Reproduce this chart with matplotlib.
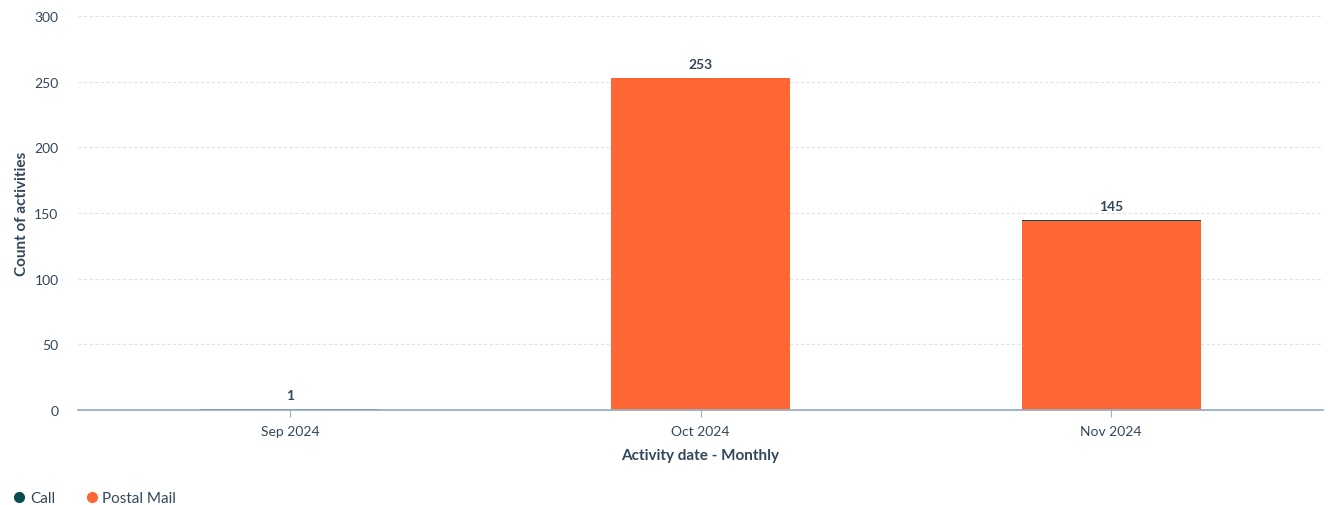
import numpy as np
import matplotlib.pyplot as plt
from matplotlib.lines import Line2D

months = ["Sep 2024", "Oct 2024", "Nov 2024"]
call = [1, 0, 1]
postal_mail = [0, 253, 144]

CALL_COLOR = "#0b4a4d"
MAIL_COLOR = "#ff6633"
TEXT_COLOR = "#33475b"

plt.rcParams["font.family"] = ["Lato", "DejaVu Sans"]

fig = plt.figure(figsize=(13.35, 5.06), dpi=100)
ax = fig.add_axes([78 / 1335, 1 - 411 / 506, (1323 - 78) / 1335, (411 - 17) / 506])

x = np.arange(len(months))
width = 0.436
ax.bar(x, postal_mail, width, color=MAIL_COLOR, zorder=2)
ax.bar(x, call, width, bottom=postal_mail, color=CALL_COLOR, zorder=2)

totals = np.array(call) + np.array(postal_mail)
for xi, t in zip(x, totals):
    ax.text(xi, t + 6, str(t), ha="center", va="bottom", fontsize=10,
            fontweight="bold", color=TEXT_COLOR)

ax.set_xlim(-0.516, 2.516)
ax.set_ylim(0, 300)
ax.set_yticks(np.arange(0, 301, 50))
ax.set_xticks(x)
ax.set_xticklabels(months)
ax.grid(axis="y", color="#dfe3eb", linestyle=(0, (3, 2)), linewidth=0.8, zorder=0)
for s in ["top", "right", "left"]:
    ax.spines[s].set_visible(False)
ax.spines["bottom"].set_color("#99afc4")
ax.spines["bottom"].set_linewidth(1.3)
ax.spines["bottom"].set_zorder(2.5)
ax.tick_params(axis="y", length=0, pad=14, labelsize=10, labelcolor=TEXT_COLOR)
ax.tick_params(axis="x", length=5, color="#99afc4", pad=6, labelsize=10, labelcolor=TEXT_COLOR)

ax.set_xlabel("Activity date - Monthly", fontsize=11, fontweight="bold", color=TEXT_COLOR, labelpad=8)
ax.set_ylabel("Count of activities", fontsize=11, fontweight="bold", color=TEXT_COLOR, labelpad=4)

handles = [Line2D([], [], marker="o", linestyle="", color=CALL_COLOR, markersize=7),
           Line2D([], [], marker="o", linestyle="", color=MAIL_COLOR, markersize=7)]
leg = fig.legend(handles, ["Call", "Postal Mail"], loc="lower left", bbox_to_anchor=(0.004, -0.012),
                 ncol=2, frameon=False, fontsize=11, handletextpad=0.2, columnspacing=1.9,
                 handlelength=1.0, borderaxespad=0.0)
for t in leg.get_texts():
    t.set_color(TEXT_COLOR)

fig.savefig("out.png", dpi=100)
